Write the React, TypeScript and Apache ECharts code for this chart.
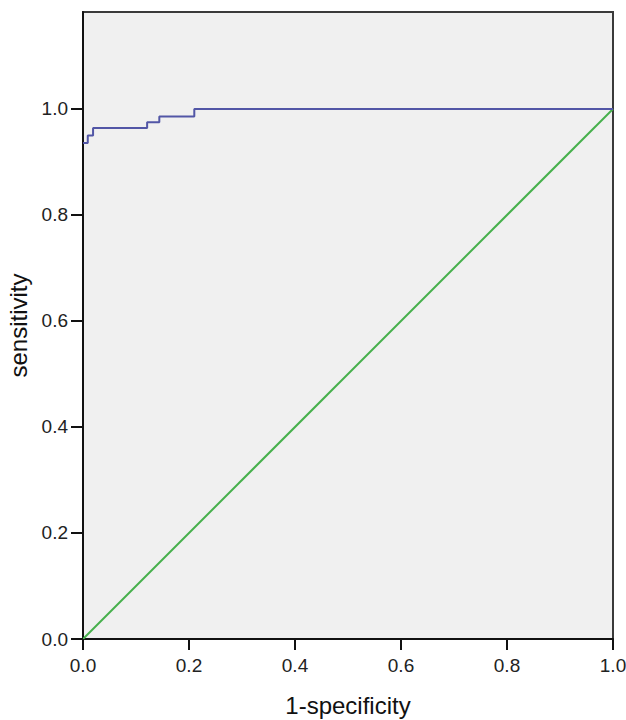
import React, { useEffect, useRef } from "react";
import * as echarts from "echarts";

const xTicks = [0, 0.2, 0.4, 0.6, 0.8, 1.0];
const yTicks = [0, 0.2, 0.4, 0.6, 0.8, 1.0];
const rocFpr = [0, 0.009, 0.019, 0.121, 0.144, 0.21, 1.0];
const rocTpr = [0.936, 0.95, 0.964, 0.975, 0.986, 1.0, 1.0];
const refX = [0, 1];
const refY = [0, 1];

export default function App() {
  const ref = useRef<HTMLDivElement>(null);
  useEffect(() => {
    if (!ref.current) return;
    const chart = echarts.init(ref.current, null, { renderer: "svg" });
    const font = "Liberation Sans, Arial, sans-serif";
    const fmt = (ticks: number[]) => (v: number) =>
      ticks.some((t) => Math.abs(t - v) < 1e-6) ? v.toFixed(1) : "";
    const tickData = [
      ...xTicks.map((v) => [v, 0, 0]),
      ...yTicks.map((v) => [0, v, 1]),
    ];
    chart.setOption({
      animation: false,
      backgroundColor: "#ffffff",
      grid: {
        left: 83,
        right: 13,
        top: 12,
        bottom: 81,
        outerBoundsMode: "none",
        containLabel: false,
        show: true,
        backgroundColor: "#f0f0f0",
        borderColor: "#3a3a3a",
        borderWidth: 2,
      },
      xAxis: {
        type: "value",
        min: 0,
        max: 1,
        interval: 0.2,
        name: "1-specificity",
        nameLocation: "middle",
        nameGap: 54,
        nameTextStyle: { fontFamily: font, fontSize: 24, color: "#111" },
        axisLine: { show: true, onZero: false, lineStyle: { color: "#111", width: 2 } },
        axisTick: { show: false },
        axisLabel: {
          margin: 17,
          fontFamily: font,
          fontSize: 19,
          color: "#222",
          formatter: fmt(xTicks),
        },
        splitLine: { show: false },
      },
      yAxis: {
        type: "value",
        min: 0,
        max: 1.183,
        interval: 0.2,
        name: "sensitivity",
        nameLocation: "middle",
        nameGap: 53,
        nameTextStyle: { fontFamily: font, fontSize: 24, color: "#111" },
        axisLine: { show: true, onZero: false, lineStyle: { color: "#111", width: 2 } },
        axisTick: { show: false },
        axisLabel: {
          margin: 15,
          fontFamily: font,
          fontSize: 19,
          color: "#222",
          formatter: fmt(yTicks),
        },
        splitLine: { show: false },
      },
      series: [
        {
          type: "line",
          data: refX.map((x, i) => [x, refY[i]]),
          symbol: "none",
          lineStyle: { color: "#46b04c", width: 2 },
          z: 2,
        },
        {
          type: "line",
          step: "end",
          data: rocFpr.map((x, i) => [x, rocTpr[i]]),
          symbol: "none",
          lineStyle: { color: "#5256a6", width: 2 },
          z: 3,
        },
        {
          type: "custom",
          clip: false,
          silent: true,
          z: 10,
          data: tickData,
          encode: { x: 0, y: 1 },
          renderItem: (params: any, api: any) => {
            const p = api.coord([api.value(0), api.value(1)]);
            const isY = api.value(2) === 1;
            return {
              type: "line",
              shape: isY
                ? { x1: p[0] - 12, y1: p[1], x2: p[0], y2: p[1] }
                : { x1: p[0], y1: p[1], x2: p[0], y2: p[1] + 11 },
              style: { stroke: "#111", lineWidth: 2 },
            };
          },
        },
      ],
    });
    return () => chart.dispose();
  }, []);
  return (
    <div
      ref={ref}
      style={{ position: "fixed", left: 0, top: 0, width: 626, height: 720 }}
    />
  );
}
